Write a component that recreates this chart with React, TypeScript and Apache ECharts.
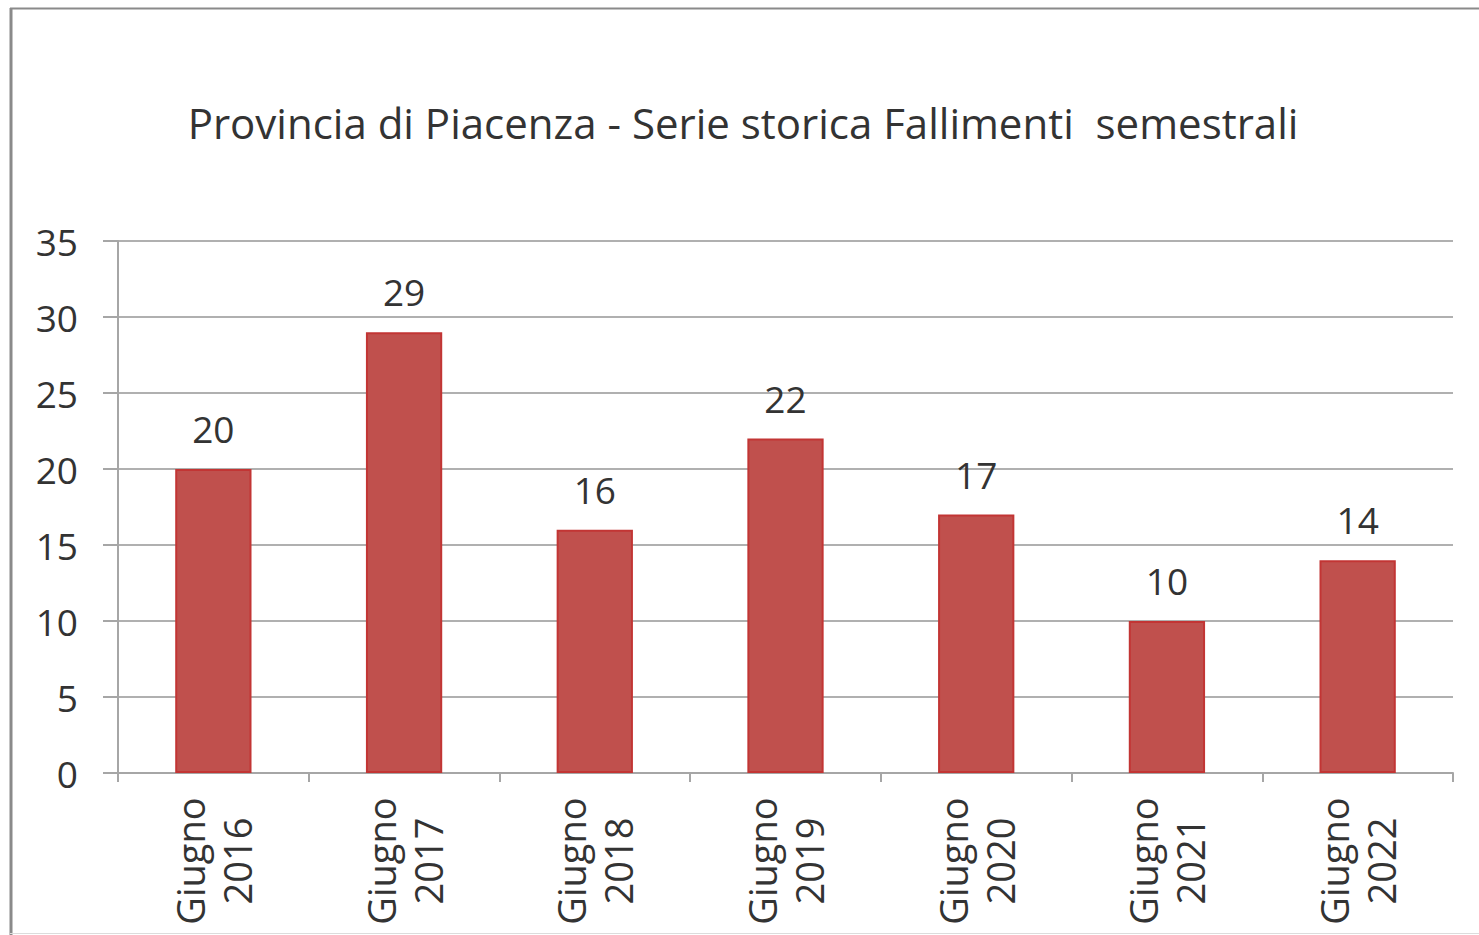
import React, { useEffect, useRef } from "react";
import * as echarts from "echarts";

const titleText = "Provincia di Piacenza - Serie storica Fallimenti  semestrali";
const categories = ["Giugno\n2016", "Giugno\n2017", "Giugno\n2018", "Giugno\n2019", "Giugno\n2020", "Giugno\n2021", "Giugno\n2022"];
const values = [20, 29, 16, 22, 17, 10, 14];
const yMin = 0;
const yMax = 35;
const yStep = 5;

const FONT = "'Open Sans', Lato, sans-serif";
const TEXT = "#333333";

export default function App() {
  const ref = useRef<HTMLDivElement>(null);
  useEffect(() => {
    if (!ref.current) return;
    const chart = echarts.init(ref.current, null, { renderer: "svg" });
    chart.setOption({
      animation: false,
      backgroundColor: "#ffffff",
      textStyle: { fontFamily: FONT },
      title: {
        text: titleText,
        left: 743,
        top: 101,
        textAlign: "center",
        padding: 0,
        textStyle: { fontFamily: FONT, fontSize: 42, fontWeight: "normal", color: TEXT },
      },
      graphic: [
        { type: "line", shape: { x1: 11, y1: 8, x2: 11, y2: 935 }, style: { stroke: "#8a8a8a", lineWidth: 3 } },
        { type: "line", shape: { x1: 10, y1: 8.5, x2: 1479, y2: 8.5 }, style: { stroke: "#8a8a8a", lineWidth: 2 } },
        { type: "line", shape: { x1: 10, y1: 933.5, x2: 1479, y2: 933.5 }, style: { stroke: "#dcdcdc", lineWidth: 1 } },
      ],
      grid: { left: 118, right: 26, top: 241, bottom: 162, containLabel: false },
      xAxis: {
        type: "category",
        data: categories,
        axisLine: { show: true, lineStyle: { color: "#a6a6a6", width: 2 } },
        axisTick: { show: true, length: 9, lineStyle: { color: "#a6a6a6", width: 2 } },
        axisLabel: {
          rotate: 90,
          align: "center",
          margin: 88,
          fontSize: 38,
          lineHeight: 47,
          color: TEXT,
          fontFamily: FONT,
        },
      },
      yAxis: {
        type: "value",
        min: yMin,
        max: yMax,
        interval: yStep,
        axisLine: { show: true, lineStyle: { color: "#a6a6a6", width: 2 } },
        axisTick: { show: true, length: 15, lineStyle: { color: "#a6a6a6", width: 2 } },
        splitLine: { show: true, lineStyle: { color: "#b0b0b0", width: 2 } },
        axisLabel: { fontSize: 37, color: TEXT, margin: 40, fontFamily: FONT },
      },
      series: [
        {
          type: "bar",
          data: values,
          barWidth: "40%",
          itemStyle: { color: "#C0504D", borderColor: "#C23534", borderWidth: 2 },
          label: {
            show: true,
            position: "top",
            distance: 22,
            fontSize: 37,
            color: TEXT,
            fontFamily: FONT,
          },
        },
      ],
    });
    return () => chart.dispose();
  }, []);
  return (
    <div
      ref={ref}
      style={{ position: "absolute", left: 0, top: 0, width: 1479, height: 935 }}
    />
  );
}
